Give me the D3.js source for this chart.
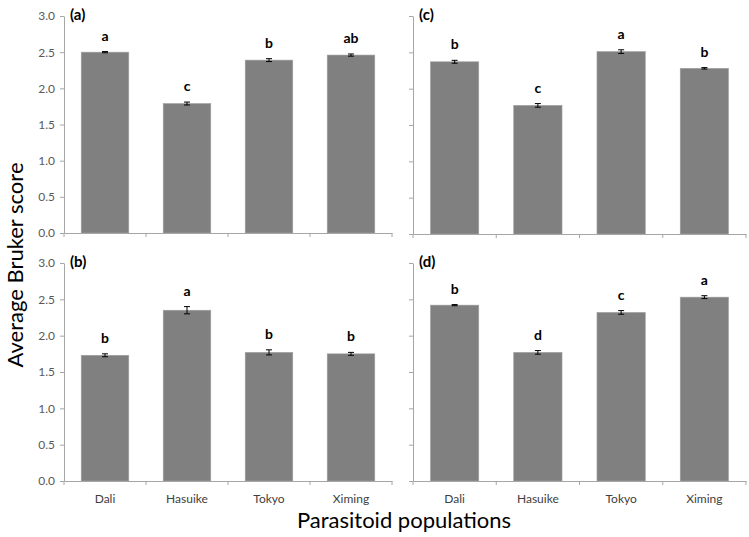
<!DOCTYPE html>
<html><head><meta charset="utf-8">
<script src="https://cdn.jsdelivr.net/npm/d3@7"></script>
<style>body{margin:0;background:#fff}svg{display:block}</style>
</head><body>
<script>
const categories = ["Dali","Hasuike","Tokyo","Ximing"];
const panelNames = ["(a)","(b)","(c)","(d)"];
const valuesA = [2.50, 1.79, 2.39, 2.46];
const errorsA = [0.008, 0.02, 0.02, 0.015];
const lettersA = ["a","c","b","ab"];
const valuesB = [1.73, 2.35, 1.77, 1.75];
const errorsB = [0.02, 0.05, 0.035, 0.02];
const lettersB = ["b","a","b","b"];
const valuesC = [2.37, 1.77, 2.51, 2.28];
const errorsC = [0.02, 0.025, 0.025, 0.01];
const lettersC = ["b","c","a","b"];
const valuesD = [2.42, 1.77, 2.32, 2.53];
const errorsD = [0.008, 0.025, 0.025, 0.02];
const lettersD = ["b","d","c","a"];
const yTicks = [0,0.5,1.0,1.5,2.0,2.5,3.0];
const yTitle = "Average Bruker score";
const xTitle = "Parasitoid populations";

const W=749,H=537;
const svg=d3.select("body").append("svg").attr("width",W).attr("height",H);
const font="Lato, 'Open Sans', sans-serif";
const axisColor="#a6a6a6";

const panels=[
 {name:panelNames[0],v:valuesA,e:errorsA,l:lettersA,x0:64,x1:392,yt:16,yb:233,yLabels:true,xLabels:false},
 {name:panelNames[2],v:valuesC,e:errorsC,l:lettersC,x0:413,x1:746,yt:16,yb:234,yLabels:false,xLabels:false},
 {name:panelNames[1],v:valuesB,e:errorsB,l:lettersB,x0:64,x1:392,yt:263,yb:481,yLabels:true,xLabels:true},
 {name:panelNames[3],v:valuesD,e:errorsD,l:lettersD,x0:413,x1:746,yt:263,yb:481,yLabels:false,xLabels:true}
];

panels.forEach(p=>{
  const g=svg.append("g");
  const x=d3.scaleBand().domain(categories).range([p.x0,p.x1]).paddingInner(0.42).paddingOuter(0.21);
  const y=d3.scaleLinear().domain([0,3]).range([p.yb,p.yt]);
  g.selectAll("rect.bar").data(categories).join("rect")
    .attr("x",d=>x(d)).attr("width",x.bandwidth())
    .attr("y",(d,i)=>y(p.v[i])).attr("height",(d,i)=>y(0)-y(p.v[i]))
    .attr("fill","#808080").attr("stroke","#a0a0a0").attr("stroke-width",0.6);
  categories.forEach((c,i)=>{
    const cx=x(c)+x.bandwidth()/2;
    const t=y(p.v[i]+p.e[i]), b=y(p.v[i]-p.e[i]);
    g.append("line").attr("x1",cx).attr("x2",cx).attr("y1",t).attr("y2",b).attr("stroke","#000").attr("stroke-width",1);
    [t,b].forEach(yy=>g.append("line").attr("x1",cx-3).attr("x2",cx+3).attr("y1",yy).attr("y2",yy).attr("stroke","#000").attr("stroke-width",1));
    g.append("text").attr("x",cx).attr("y",t-11).attr("text-anchor","middle")
      .attr("font-family",font).attr("font-weight","bold").attr("font-size",14).attr("fill","#000").text(p.l[i]);
  });
  const ya=d3.axisLeft(y).tickValues(yTicks).tickSize(4).tickSizeOuter(0)
    .tickFormat(p.yLabels?d3.format(".1f"):()=>"");
  const yg=g.append("g").attr("transform",`translate(${p.x0},0)`).call(ya);
  yg.select(".domain").attr("stroke",axisColor);
  yg.selectAll(".tick line").attr("stroke",axisColor);
  yg.selectAll(".tick text").attr("font-family",font).attr("font-size",12).attr("fill","#595959").attr("x",-9);
  const xa=d3.axisBottom(x).tickSize(0).tickSizeOuter(0).tickFormat(p.xLabels?(d=>d):()=>"");
  const xg=g.append("g").attr("transform",`translate(0,${p.yb})`).call(xa);
  xg.select(".domain").attr("stroke",axisColor);
  xg.selectAll(".tick text").attr("font-family",font).attr("font-size",12).attr("fill","#404040").attr("dy",0).attr("y",22);
  const bounds=[p.x0].concat(categories.map(c=>x(c)+x.bandwidth()+x.step()*0.21)).slice(0,5);
  bounds.forEach(bx=>g.append("line").attr("x1",bx).attr("x2",bx).attr("y1",p.yb).attr("y2",p.yb+4).attr("stroke",axisColor));
  g.append("text").attr("x",p.x0+6).attr("y",p.yt+4).attr("font-family",font).attr("font-weight","bold")
    .attr("font-size",15).attr("fill","#000").text(p.name);
});

svg.append("text").attr("transform","translate(23,265) rotate(-90)").attr("text-anchor","middle")
  .attr("font-family",font).attr("font-size",22).attr("fill","#000").text(yTitle);
svg.append("text").attr("x",404).attr("y",528).attr("text-anchor","middle")
  .attr("font-family",font).attr("font-size",22).attr("fill","#000").text(xTitle);
</script>
</body></html>
